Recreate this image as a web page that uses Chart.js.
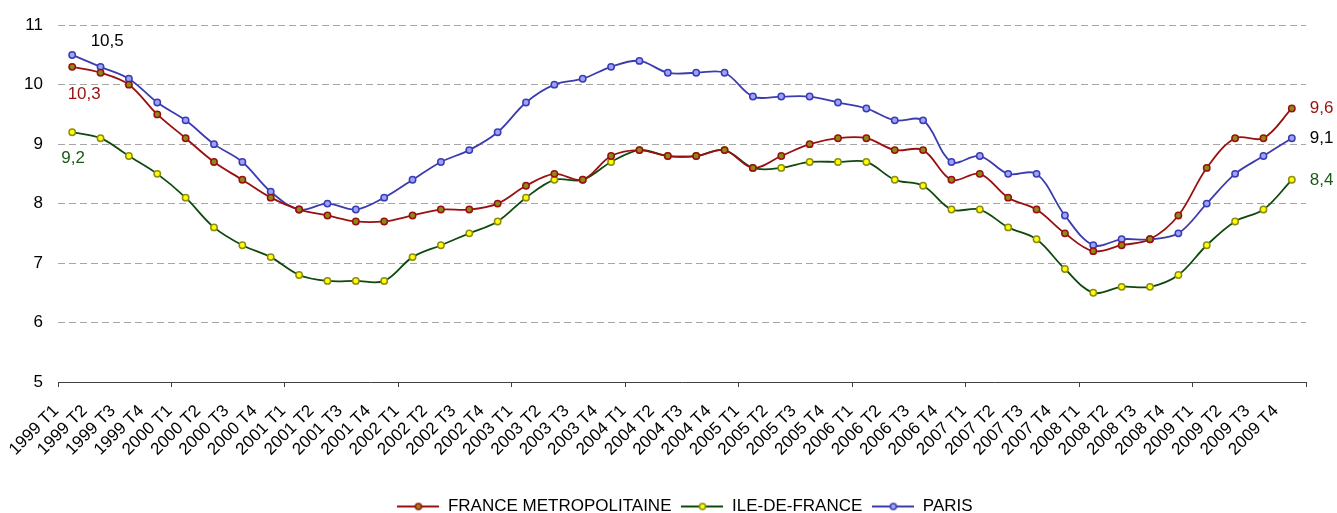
<!DOCTYPE html>
<html>
<head>
<meta charset="utf-8">
<script src="https://cdn.jsdelivr.net/npm/chart.js@4.4.0/dist/chart.umd.min.js"></script>
<style>
  html, body { margin: 0; padding: 0; background: #fff; }
  #cadre { width: 1337px; height: 513px; }
</style>
</head>
<body>
<div id="cadre"><canvas id="chomage"></canvas></div>
<script>
// --- DONNEES ---
const trimestres = [
    '1999 T1', '1999 T2', '1999 T3', '1999 T4',
    '2000 T1', '2000 T2', '2000 T3', '2000 T4',
    '2001 T1', '2001 T2', '2001 T3', '2001 T4',
    '2002 T1', '2002 T2', '2002 T3', '2002 T4',
    '2003 T1', '2003 T2', '2003 T3', '2003 T4',
    '2004 T1', '2004 T2', '2004 T3', '2004 T4',
    '2005 T1', '2005 T2', '2005 T3', '2005 T4',
    '2006 T1', '2006 T2', '2006 T3', '2006 T4',
    '2007 T1', '2007 T2', '2007 T3', '2007 T4',
    '2008 T1', '2008 T2', '2008 T3', '2008 T4',
    '2009 T1', '2009 T2', '2009 T3', '2009 T4'
];

const franceMetro = [
    10.3, 10.2, 10.0, 9.5,
    9.1, 8.7, 8.4, 8.1,
    7.9, 7.8, 7.7, 7.7,
    7.8, 7.9, 7.9, 8.0,
    8.3, 8.5, 8.4, 8.8,
    8.9, 8.8, 8.8, 8.9,
    8.6, 8.8, 9.0, 9.1,
    9.1, 8.9, 8.9, 8.4,
    8.5, 8.1, 7.9, 7.5,
    7.2, 7.3, 7.4, 7.8,
    8.6, 9.1, 9.1, 9.6
];

const ileDeFrance = [
    9.2, 9.1, 8.8, 8.5,
    8.1, 7.6, 7.3, 7.1,
    6.8, 6.7, 6.7, 6.7,
    7.1, 7.3, 7.5, 7.7,
    8.1, 8.4, 8.4, 8.7,
    8.9, 8.8, 8.8, 8.9,
    8.6, 8.6, 8.7, 8.7,
    8.7, 8.4, 8.3, 7.9,
    7.9, 7.6, 7.4, 6.9,
    6.5, 6.6, 6.6, 6.8,
    7.3, 7.7, 7.9, 8.4
];

const paris = [
    10.5, 10.3, 10.1, 9.7,
    9.4, 9.0, 8.7, 8.2,
    7.9, 8.0, 7.9, 8.1,
    8.4, 8.7, 8.9, 9.2,
    9.7, 10.0, 10.1, 10.3,
    10.4, 10.2, 10.2, 10.2,
    9.8, 9.8, 9.8, 9.7,
    9.6, 9.4, 9.4, 8.7,
    8.8, 8.5, 8.5, 7.8,
    7.3, 7.4, 7.4, 7.5,
    8.0, 8.5, 8.8, 9.1
];

const POLICE = '"Liberation Sans", Arial, sans-serif';

// petite image ligne + marqueur pour la légende
function iconeLegende(ligne, fond, bord) {
    const c = document.createElement('canvas');
    c.width = 42; c.height = 10;
    const g = c.getContext('2d');
    g.strokeStyle = ligne; g.lineWidth = 2;
    g.beginPath(); g.moveTo(0, 5); g.lineTo(42, 5); g.stroke();
    g.beginPath(); g.arc(21, 5, 3, 0, Math.PI * 2);
    g.fillStyle = fond; g.fill();
    g.lineWidth = 1.5; g.strokeStyle = bord; g.stroke();
    return c;
}

const series = [
    { label: 'FRANCE METROPOLITAINE', data: franceMetro, ligne: '#9a1010', fond: '#8c8c14', bord: '#9a1010',
      texteDebut: '#9a1010', texteFin: '#9a1010', decDebut: [12, 27] },
    { label: 'ILE-DE-FRANCE', data: ileDeFrance, ligne: '#0e4a0e', fond: '#ffff00', bord: '#8c8c14',
      texteDebut: '#1a5a1a', texteFin: '#1a5a1a', decDebut: [1, 26] },
    { label: 'PARIS', data: paris, ligne: '#3c3cb0', fond: '#9aa4ff', bord: '#3c3cb0',
      texteDebut: '#000000', texteFin: '#000000', decDebut: [35, -14] }
];

// étiquettes de valeur au début et à la fin de chaque courbe
const etiquettes = {
    id: 'etiquettes',
    afterDatasetsDraw(chart) {
        const ctx = chart.ctx;
        ctx.save();
        ctx.font = '17px ' + POLICE;
        ctx.textBaseline = 'middle';
        chart.data.datasets.forEach((ds, i) => {
            const pts = chart.getDatasetMeta(i).data;
            const s = series[i];
            const fmt = v => v.toFixed(1).replace('.', ',');
            const p0 = pts[0], pN = pts[pts.length - 1];
            ctx.fillStyle = s.texteDebut;
            ctx.textAlign = 'center';
            ctx.fillText(fmt(ds.data[0]), p0.x + s.decDebut[0], p0.y + s.decDebut[1]);
            ctx.fillStyle = s.texteFin;
            ctx.textAlign = 'left';
            ctx.fillText(fmt(ds.data[ds.data.length - 1]), pN.x + 18, pN.y);
        });
        ctx.restore();
    }
};

// descend la légende tout en bas (et un peu à droite, comme l'original)
const legendeBas = {
    id: 'legendeBas',
    afterLayout(chart) {
        if (!chart.legend) return;
        chart.legend.top += 12;
        chart.legend.bottom += 12;
        chart.legend.left += 32;
        chart.legend.right += 32;
    }
};

function initChart() {
    const ctx = document.getElementById('chomage').getContext('2d');
    new Chart(ctx, {
        type: 'line',
        data: {
            labels: trimestres,
            datasets: series.map(s => ({
                label: s.label,
                data: s.data,
                borderColor: s.ligne,
                borderWidth: 1.8,
                backgroundColor: s.fond,
                pointBackgroundColor: s.fond,
                pointBorderColor: s.bord,
                pointBorderWidth: 1.5,
                pointRadius: 3.2,
                tension: 0.35,
                fill: false
            }))
        },
        options: {
            responsive: true,
            maintainAspectRatio: false,
            animation: false,
            layout: { padding: { top: 25, right: 31, left: 0, bottom: 0 } },
            plugins: {
                tooltip: { enabled: false },
                legend: {
                    position: 'bottom',
                    labels: {
                        color: '#000',
                        font: { family: POLICE, size: 17 },
                        usePointStyle: true,
                        pointStyleWidth: 42,
                        padding: 10,
                        generateLabels: (chart) => Chart.defaults.plugins.legend.labels.generateLabels(chart)
                            .map((l, i) => ({ ...l, pointStyle: iconeLegende(series[i].ligne, series[i].fond, series[i].bord) }))
                    }
                }
            },
            scales: {
                x: {
                    offset: true,
                    grid: {
                        offset: true,
                        drawOnChartArea: false,
                        drawTicks: true,
                        tickLength: 5,
                        color: (c) => (c.index === undefined || c.index % 4 === 0) ? '#404040' : 'rgba(0,0,0,0)'
                    },
                    border: { display: true, color: '#404040', width: 1 },
                    ticks: {
                        autoSkip: false,
                        maxRotation: 45,
                        minRotation: 45,
                        labelOffset: -16,
                        padding: 14,
                        color: '#000',
                        font: { family: POLICE, size: 17 }
                    },
                    afterFit: (scale) => { scale.height = 94; }
                },
                y: {
                    min: 5,
                    max: 11,
                    ticks: {
                        stepSize: 1,
                        padding: 15,
                        color: '#000',
                        font: { family: POLICE, size: 17 }
                    },
                    grid: {
                        drawTicks: false,
                        color: (c) => c.tick && c.tick.value === 5 ? 'rgba(0,0,0,0)' : '#a6a6a6'
                    },
                    border: { display: false, dash: [7, 4] },
                    afterFit: (scale) => { scale.width = 58; }
                }
            }
        },
        plugins: [etiquettes, legendeBas]
    });
}

window.addEventListener('load', initChart);
</script>
</body>
</html>
